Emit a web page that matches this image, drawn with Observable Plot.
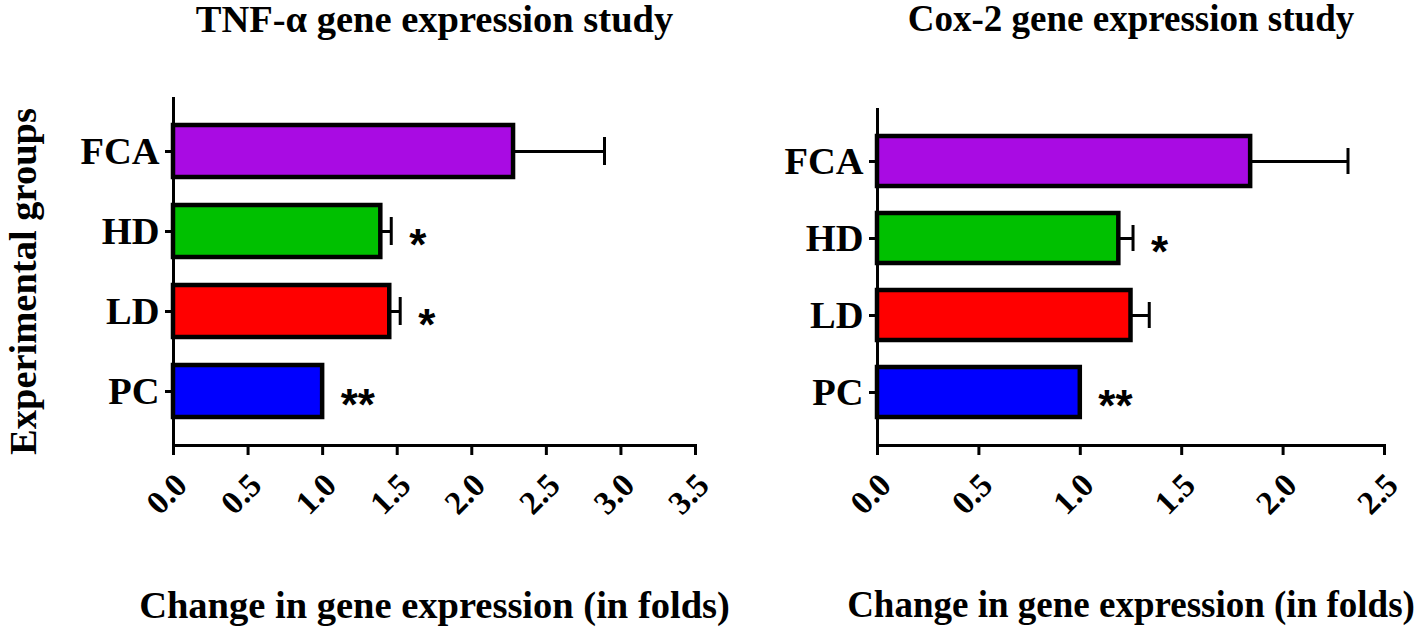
<!DOCTYPE html>
<html>
<head>
<meta charset="utf-8">
<script src="https://cdn.jsdelivr.net/npm/d3@7"></script>
<script src="https://cdn.jsdelivr.net/npm/@observablehq/plot@0.6"></script>
<style>
  html, body { margin: 0; padding: 0; background: #fff; }
  #wrap { display: flex; width: 1418px; height: 628px; background: #fff; }
  #wrap svg { overflow: visible; }
</style>
</head>
<body>
<div id="wrap"></div>
<script>
// ---- data ----
const groups = ["FCA", "HD", "LD", "PC"];
const groupColors = ["#a90be3", "#00c000", "#ff0000", "#0000ff"];

const tnfMean = [2.28, 1.39, 1.45, 1.00];
const tnfSem  = [0.61, 0.07, 0.07, 0.00];
const tnfSig  = ["", "*", "*", "**"];
const tnfTicks = [0, 0.5, 1.0, 1.5, 2.0, 2.5, 3.0, 3.5];

const coxMean = [1.84, 1.19, 1.25, 1.00];
const coxSem  = [0.48, 0.07, 0.09, 0.00];
const coxSig  = ["", "*", "", "**"];
const coxTicks = [0, 0.5, 1.0, 1.5, 2.0, 2.5];

const titles = ["TNF-\u03b1 gene expression study", "Cox-2 gene expression study"];
const xLabel = "Change in gene expression (in folds)";
const yLabel = "Experimental groups";

const serif = "'Liberation Serif', 'Times New Roman', Times, serif";
const sans = "'Liberation Sans', Arial, Helvetica, sans-serif";

function panel({mean, sem, sig, ticks, title, width, marginLeft, marginRight, marginTop, showY, textSize}) {
  const rows = groups.map((g, i) => ({group: g, mean: mean[i], upper: mean[i] + sem[i], sig: sig[i]}));
  const withErr = rows.filter(d => d.upper > d.mean);
  const fmt = d3.format(".1f");
  const marks = [
    Plot.ruleY(withErr, {y: "group", x1: "mean", x2: "upper", stroke: "black", strokeWidth: 3}),
    Plot.barX(rows, {y: "group", x: "mean", fill: "group", stroke: "black", strokeWidth: 4.5}),
    Plot.tickX(withErr, {y: "group", x: "upper", stroke: "black", strokeWidth: 3, insetTop: 12, insetBottom: 12}),
    Plot.ruleX([0], {stroke: "black", strokeWidth: 3}),
    Plot.frame({anchor: "bottom", stroke: "black", strokeWidth: 3}),
    Plot.text(rows, {y: "group", x: "upper", text: "sig", textAnchor: "start", dx: 18, dy: 14,
      fontFamily: sans, fontWeight: "bold", fontSize: 44, fill: "black"}),
    Plot.axisY({tickSize: 8, tickPadding: 6, strokeWidth: 3, fontSize: 38.5, fontWeight: "bold", fontFamily: serif, label: null, color: "black"}),
    // x tick marks
    Plot.axisX({ticks, tickFormat: () => "", tickSize: 10, strokeWidth: 3, label: null, color: "black"}),
    // x tick labels (rotated, nudged right)
    Plot.axisX({ticks, tickFormat: fmt, tickSize: 0, tickPadding: 34, tickRotate: -45, dx: 8,
      fontSize: 33, fontWeight: "bold", fontFamily: serif, label: null, color: "black"}),
    Plot.text([title], {frameAnchor: "top", textAnchor: "middle", dy: 19 - marginTop, lineAnchor: "middle",
      fontSize: textSize, fontWeight: "bold", fontFamily: serif, fill: "black"}),
    Plot.text([xLabel], {frameAnchor: "bottom", textAnchor: "middle", dy: 160, lineAnchor: "middle",
      fontSize: textSize, fontWeight: "bold", fontFamily: serif, fill: "black"})
  ];
  if (showY) {
    marks.push(Plot.text([yLabel], {frameAnchor: "left", textAnchor: "middle", lineAnchor: "middle", rotate: -90,
      dx: 23 - marginLeft, dy: 10, fontSize: textSize, fontWeight: "bold", fontFamily: serif, fill: "black"}));
  }
  return Plot.plot({
    width, height: 628,
    marginLeft, marginRight, marginTop, marginBottom: 183,
    style: {fontFamily: serif, background: "transparent", color: "black", overflow: "visible"},
    x: {domain: [ticks[0], ticks[ticks.length - 1]]},
    y: {domain: groups, paddingInner: 0.35, paddingOuter: 0.34},
    color: {domain: groups, range: groupColors},
    marks
  });
}

const wrap = document.getElementById("wrap");
wrap.appendChild(panel({mean: tnfMean, sem: tnfSem, sig: tnfSig, ticks: tnfTicks, title: titles[0],
  width: 712, marginLeft: 173, marginRight: 17, marginTop: 97, showY: true, textSize: 38.5}));
wrap.appendChild(panel({mean: coxMean, sem: coxSem, sig: coxSig, ticks: coxTicks, title: titles[1],
  width: 706, marginLeft: 165, marginRight: 34, marginTop: 108, showY: false, textSize: 37}));
</script>
</body>
</html>
